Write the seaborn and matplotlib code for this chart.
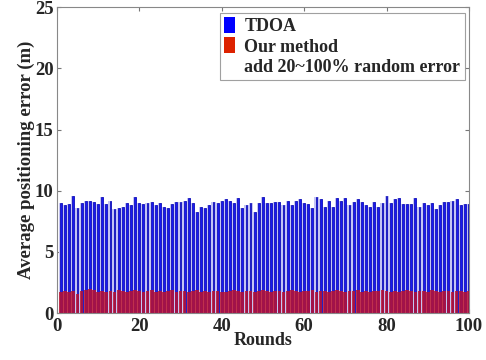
import numpy as np
import matplotlib
matplotlib.use('Agg')
import matplotlib.pyplot as plt
import seaborn as sns
from matplotlib.patches import Patch

# per-round average positioning error (m)
tdoa = [9.0, 8.8, 8.9, 9.6, 8.6, 9.0, 9.2, 9.2, 9.1, 8.9,
        9.5, 8.9, 9.2, 8.5, 8.6, 8.7, 9.0, 8.8, 9.5, 9.0,
        8.9, 9.0, 9.1, 8.8, 9.0, 8.7, 8.6, 8.9, 9.1, 9.1,
        9.2, 9.4, 9.0, 8.3, 8.7, 8.6, 8.8, 9.1, 9.0, 9.2,
        9.3, 9.2, 9.0, 9.4, 8.6, 8.8, 9.0, 8.3, 9.0, 9.5,
        9.0, 9.0, 9.1, 9.1, 8.8, 9.2, 8.8, 9.2, 9.3, 9.0,
        8.9, 8.6, 9.5, 9.3, 8.7, 9.2, 8.7, 9.4, 9.2, 9.4,
        8.8, 9.1, 9.3, 9.1, 8.8, 8.7, 9.1, 8.7, 9.0, 9.6,
        9.0, 9.3, 9.4, 8.9, 8.9, 8.9, 9.4, 8.7, 9.0, 8.8,
        9.0, 8.5, 8.8, 9.1, 9.1, 9.2, 9.3, 8.8, 8.9, 8.9]
ours = [1.7, 1.8, 1.7, 1.8, 1.6, 1.8, 1.9, 2.0, 1.9, 1.7,
        1.8, 1.7, 1.8, 1.7, 1.9, 1.8, 1.7, 1.8, 1.9, 1.8,
        1.7, 1.8, 1.9, 1.7, 1.8, 1.7, 1.8, 1.9, 1.7, 1.8,
        1.8, 1.7, 1.8, 1.9, 1.7, 1.8, 1.7, 1.8, 1.8, 1.7,
        1.7, 1.8, 1.9, 1.8, 1.7, 1.8, 1.8, 1.7, 1.8, 1.9,
        1.8, 1.7, 1.8, 1.8, 1.7, 1.8, 1.9, 1.8, 1.7, 1.8,
        1.8, 1.9, 1.7, 1.8, 1.8, 1.7, 1.8, 1.9, 1.8, 1.7,
        1.8, 1.8, 1.9, 1.7, 1.8, 1.7, 1.8, 1.8, 1.9, 1.8,
        1.7, 1.8, 1.7, 1.8, 1.9, 1.8, 1.7, 1.8, 1.8, 1.7,
        1.9, 1.8, 1.7, 1.8, 1.8, 1.7, 1.8, 1.8, 1.7, 1.8]
rounds = list(range(1, len(tdoa) + 1))
labels = ['TDOA', 'Our method', 'add 20~100% random error']

sns.set_style('white')
plt.rcParams['font.family'] = ['Liberation Serif', 'DejaVu Serif']
plt.rcParams['font.weight'] = 'bold'

fig, ax = plt.subplots(figsize=(4.86, 3.6), dpi=100)
fig.subplots_adjust(left=0.117, right=0.965, top=0.98, bottom=0.13)

# pale lavender wash behind the bars, like the blurred gaps in the original
sns.barplot(x=rounds, y=tdoa, native_scale=True, width=1.0, color='#c4c4f4',
            linewidth=0, saturation=1, ax=ax)
sns.barplot(x=rounds, y=tdoa, native_scale=True, width=0.45, color='#1a1af0',
            edgecolor='#0000b0', linewidth=0.5, saturation=1, ax=ax)
sns.barplot(x=rounds, y=ours, native_scale=True, width=0.9, color='#c0102a',
            linewidth=0, saturation=1, alpha=0.82, ax=ax)

ax.set_xlim(0, 100)
ax.set_ylim(0, 25)
ax.set_xticks([0, 20, 40, 60, 80, 100])
ax.set_xticklabels(['0', '20', '40', '60', '80', '100'])
ax.set_yticks([0, 5, 10, 15, 20, 25])
ax.tick_params(direction='in', length=3, labelsize=13.5, color='#777777',
               top=True, right=True, bottom=True, left=True)
ax.tick_params(axis='x', pad=3.5)
ax.tick_params(axis='y', pad=2.5)
for lab in ax.get_xticklabels() + ax.get_yticklabels():
    lab.set_fontweight('bold')
for sp in ax.spines.values():
    sp.set_color('#888888')
    sp.set_linewidth(0.8)

ax.set_xlabel('Rounds', fontsize=13, fontweight='bold', labelpad=-2)
ax.set_ylabel('Average positioning error (m)', fontsize=13.5, fontweight='bold', labelpad=0)

handles = [Patch(facecolor='#0000ff', edgecolor='none'),
           Patch(facecolor='#dd2200', edgecolor='none'),
           Patch(facecolor='none', edgecolor='none')]
leg = ax.legend(handles, labels, loc='upper right', bbox_to_anchor=(0.99, 0.982),
                prop={'weight': 'bold', 'size': 13}, frameon=True, fancybox=False,
                handlelength=0.6, handleheight=1.0, handletextpad=0.5,
                labelspacing=0.1, borderpad=0.25, borderaxespad=0)
leg.get_frame().set_edgecolor('#888888')
leg.get_frame().set_linewidth(0.8)

plt.savefig('out.png', dpi=100)
plt.close()
